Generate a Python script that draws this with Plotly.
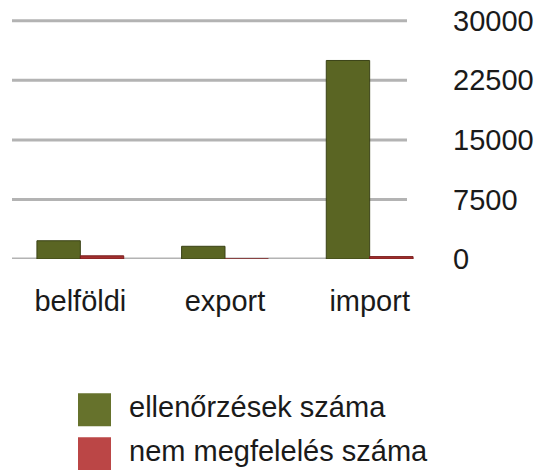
import plotly.graph_objects as go

categories = ["belföldi", "export", "import"]
series_names = ["ellenőrzések száma", "nem megfelelés száma"]
ellenorzesek = [2300, 1600, 25000]
nem_megfeleles = [400, 0, 300]
y_ticks = [0, 7500, 15000, 22500, 30000]
y_tick_labels = ["0", "7500", "15000", "22500", "30000"]

FONT = "Liberation Sans"
TXT = "#1a1a1a"
GREEN = "#5a6523"
RED = "#a3302f"

W, H = 557, 470
L, R, B = 8, 115, 211
Y_MAX = 30600
# 0 at y=259 px, 30000 at y=21 px
px_per_unit = (259 - 21) / 30000
T = 259 - Y_MAX * px_per_unit
plot_w = W - L - R
plot_h = H - T - B

def px_x(x):
    return (x - L) / plot_w

def px_y(y):
    return (H - B - y) / plot_h

fig = go.Figure()
fig.add_trace(go.Bar(x=categories, y=ellenorzesek, name=series_names[0],
                     marker=dict(color=GREEN, line=dict(color="#3a4216", width=1)),
                     showlegend=False))
fig.add_trace(go.Bar(x=categories, y=nem_megfeleles, name=series_names[1],
                     marker=dict(color=RED, line=dict(color="#7a1f1f", width=1)),
                     showlegend=False))

# gridlines behind bars
for v in y_ticks:
    fig.add_shape(type="line", xref="paper", yref="y", x0=px_x(12), x1=px_x(407),
                  y0=v, y1=v, line=dict(color="#b3b3b3", width=3), layer="below")

fig.update_layout(
    width=W, height=H,
    margin=dict(l=L, r=R, t=T, b=B, autoexpand=False),
    paper_bgcolor="white", plot_bgcolor="white",
    barmode="group", bargap=0.4, bargroupgap=0,
    font=dict(family=FONT, size=29, color=TXT),
    xaxis=dict(showgrid=False, showline=False, zeroline=False, ticks="",
               automargin=False, ticklabelstandoff=22, tickfont=dict(size=29)),
    yaxis=dict(side="right", range=[0, Y_MAX], showgrid=False, zeroline=False,
               showline=False, tickvals=y_ticks, ticktext=y_tick_labels,
               automargin=False, ticks="", ticklabelstandoff=10,
               tickfont=dict(size=29)),
)

# custom legend
legend_items = [(series_names[0], "#66722c"), (series_names[1], "#bb4646")]
for i, (name, col) in enumerate(legend_items):
    top = 393 + i * 44
    fig.add_shape(type="rect", xref="paper", yref="paper",
                  x0=px_x(78), x1=px_x(111), y0=px_y(top + 33), y1=px_y(top),
                  line=dict(width=0), fillcolor=col)
    fig.add_annotation(xref="paper", yref="paper", x=px_x(127), y=px_y(top + 14),
                       text=name, showarrow=False, xanchor="left", yanchor="middle",
                       font=dict(family=FONT, size=29, color=TXT))

fig.write_html("out.html", config={"displayModeBar": False},
               post_script="document.body.style.margin='0';document.body.style.overflow='hidden';")
